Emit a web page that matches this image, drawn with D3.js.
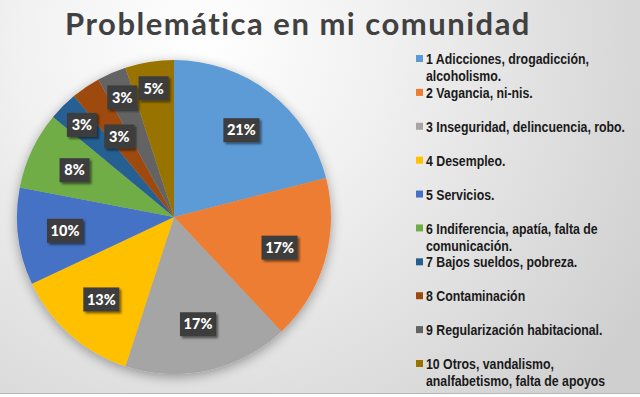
<!DOCTYPE html>
<html>
<head>
    <title>Problemática en mi comunidad</title>
    <script src="https://cdnjs.cloudflare.com/ajax/libs/d3/7.8.5/d3.min.js"></script>
    <style>
        body { margin: 0; background: #fff; }
        .title {
            font-family: Lato, "Open Sans", sans-serif;
            font-weight: 700;
            fill: #414141;
            letter-spacing: 1.5px;
        }
        .legend text {
            font-family: "Liberation Sans Narrow", "Liberation Sans", sans-serif;
            font-weight: 700;
            font-size: 14.5px;
            fill: #1a1a1a;
        }
        .pct {
            font-family: Lato, sans-serif;
            font-weight: 900;
            font-size: 14.5px;
            fill: #fff;
        }
    </style>
</head>
<body>
    <div id="chart"></div>
    <script>
        // values
        const categories = [
            "1 Adicciones, drogadicción, |alcoholismo.",
            "2 Vagancia, ni-nis.",
            "3 Inseguridad, delincuencia, robo.",
            "4 Desempleo.",
            "5 Servicios.",
            "6 Indiferencia, apatía, falta de |comunicación.",
            "7 Bajos sueldos, pobreza.",
            "8 Contaminación",
            "9 Regularización habitacional.",
            "10 Otros, vandalismo, |analfabetismo, falta de apoyos"
        ];
        const values = [21, 17, 17, 13, 10, 8, 3, 3, 3, 5];
        const colors = ["#5B9BD5", "#ED7D31", "#A5A5A5", "#FFC000", "#4472C4",
                        "#70AD47", "#255E91", "#9E480E", "#636363", "#997300"];

        const W = 640, H = 397;
        const cx = 174, cy = 217, radius = 157;

        const svg = d3.select("#chart")
            .append("svg")
            .attr("width", W)
            .attr("height", H);

        const defs = svg.append("defs");
        const bg = defs.append("radialGradient")
            .attr("id", "bg")
            .attr("gradientUnits", "userSpaceOnUse")
            .attr("cx", 200).attr("cy", 40).attr("r", 520);
        bg.append("stop").attr("offset", "0%").attr("stop-color", "#ffffff");
        bg.append("stop").attr("offset", "35%").attr("stop-color", "#f1f1f1");
        bg.append("stop").attr("offset", "100%").attr("stop-color", "#cfcfcf");

        const shadow = defs.append("filter").attr("id", "pieShadow")
            .attr("x", "-20%").attr("y", "-20%").attr("width", "140%").attr("height", "140%");
        shadow.append("feGaussianBlur").attr("in", "SourceAlpha").attr("stdDeviation", 6);
        shadow.append("feOffset").attr("dx", 0).attr("dy", 3).attr("result", "blur");
        shadow.append("feComponentTransfer").append("feFuncA").attr("type", "linear").attr("slope", 0.35);
        const m = shadow.append("feMerge");
        m.append("feMergeNode");
        m.append("feMergeNode").attr("in", "SourceGraphic");

        const boxShadow = defs.append("filter").attr("id", "boxShadow")
            .attr("x", "-30%").attr("y", "-30%").attr("width", "170%").attr("height", "170%");
        boxShadow.append("feGaussianBlur").attr("in", "SourceAlpha").attr("stdDeviation", 1.2);
        boxShadow.append("feOffset").attr("dx", 2).attr("dy", 2);
        boxShadow.append("feComponentTransfer").append("feFuncA").attr("type", "linear").attr("slope", 0.5);
        const m2 = boxShadow.append("feMerge");
        m2.append("feMergeNode");
        m2.append("feMergeNode").attr("in", "SourceGraphic");

        svg.append("rect")
            .attr("width", W).attr("height", 393)
            .attr("fill", "url(#bg)");
        svg.append("line")
            .attr("x1", 0).attr("x2", W).attr("y1", 393.5).attr("y2", 393.5)
            .attr("stroke", "#b8b8b8");

        svg.append("text")
            .attr("class", "title")
            .attr("x", 298).attr("y", 35)
            .attr("text-anchor", "middle")
            .style("font-size", "31px")
            .text("Problemática en mi comunidad");

        const data = categories.map((c, i) => ({ name: c, value: values[i], color: colors[i] }));

        const pie = d3.pie().value(d => d.value).sort(null);
        const arcs = pie(data);
        const arc = d3.arc().innerRadius(0).outerRadius(radius);

        const g = svg.append("g").attr("transform", `translate(${cx},${cy})`);

        g.append("g")
            .attr("filter", "url(#pieShadow)")
            .selectAll("path")
            .data(arcs)
            .join("path")
            .attr("d", arc)
            .attr("fill", d => d.data.color);

        // best-fit style placement: thin slices go outward, every other 3% goes inward
        let small = 0;
        const labelPos = arcs.map(d => {
            let f = d.data.value >= 8 ? 0.7 : 0.83;
            if (d.data.value <= 3) {
                if (small % 2 === 1) f = 0.62;
                small++;
            }
            const a = (d.startAngle + d.endAngle) / 2;
            return [Math.sin(a) * radius * f, -Math.cos(a) * radius * f];
        });

        const labels = g.append("g")
            .selectAll("g")
            .data(arcs)
            .join("g")
            .attr("transform", (d, i) => `translate(${labelPos[i][0]},${labelPos[i][1]})`);

        labels.append("rect")
            .attr("x", d => d.data.value >= 10 ? -18 : -15)
            .attr("y", -12)
            .attr("width", d => d.data.value >= 10 ? 36 : 30)
            .attr("height", 24)
            .attr("fill", "#3d3d3d")
            .attr("filter", "url(#boxShadow)");

        labels.append("text")
            .attr("class", "pct")
            .attr("text-anchor", "middle")
            .attr("dy", "0.36em")
            .text(d => d.data.value + "%");

        // legend
        const legend = svg.append("g").attr("class", "legend")
            .attr("transform", "translate(416,0)");
        const rowY = d3.scaleLinear().domain([0, 9]).range([59, 364]);

        const rows = legend.selectAll("g")
            .data(data)
            .join("g")
            .attr("transform", (d, i) => `translate(0,${rowY(i)})`);

        rows.append("rect")
            .attr("x", 0).attr("y", -4)
            .attr("width", 7).attr("height", 7)
            .attr("fill", d => d.color);

        // no narrow face installed: squeeze the bold face horizontally
        rows.append("text")
            .attr("transform", "translate(10,0) scale(0.85,1)")
            .selectAll("tspan")
            .data(d => d.name.split("|"))
            .join("tspan")
            .attr("x", 0)
            .attr("dy", (t, i) => i === 0 ? "0.35em" : "17px")
            .text(t => t.trim());
    </script>
</body>
</html>
